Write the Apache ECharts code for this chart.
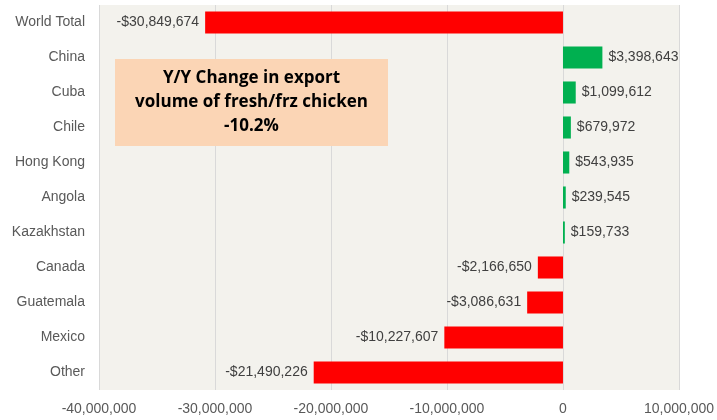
<!DOCTYPE html>
<html>
<head>
<meta charset="utf-8">
<script src="https://cdn.jsdelivr.net/npm/echarts@6/dist/echarts.min.js"></script>
<style>
  html, body { margin: 0; padding: 0; background: #fff; }
  #chartData { width: 717px; height: 420px; }
</style>
</head>
<body>
<div id="chartData"></div>
<script>
var categories = ['World Total', 'China', 'Cuba', 'Chile', 'Hong Kong', 'Angola',
                  'Kazakhstan', 'Canada', 'Guatemala', 'Mexico', 'Other'];
var changeValues = [-30849674, 3398643, 1099612, 679972, 543935, 239545,
                    159733, -2166650, -3086631, -10227607, -21490226];
var xTicks = { min: -40000000, max: 10000000, interval: 10000000 };
var boxText = 'Y/Y Change in export\nvolume of fresh/frz chicken\n-10.2%';

var font = '"Liberation Sans Narrow", "Liberation Sans", sans-serif';

function withCommas(n) {
    return String(Math.abs(Math.round(n))).replace(/\B(?=(\d{3})+(?!\d))/g, ',');
}
function money(n) {
    return (n < 0 ? '-$' : '$') + withCommas(n);
}

// 每根柱子按正负决定颜色和标签位置
var barData = changeValues.map(function (v) {
    return {
        value: v,
        itemStyle: { color: v < 0 ? '#ff0000' : '#00b050' },
        label: { position: v < 0 ? 'left' : 'right' }
    };
});

var myChart = echarts.init(document.getElementById('chartData'));

var option = {
    backgroundColor: '#ffffff',
    animation: false,
    grid: {
        left: 99, right: 38, top: 5, bottom: 30,
        show: true,
        backgroundColor: '#f3f2ed',
        borderWidth: 0
    },
    xAxis: {
        type: 'value',
        min: xTicks.min,
        max: xTicks.max,
        interval: xTicks.interval,
        axisLine: { show: false },
        axisTick: { show: false },
        splitLine: { lineStyle: { color: '#d9d9d9', width: 1 } },
        axisLabel: {
            color: '#595959',
            fontFamily: font,
            fontSize: 14,
            margin: 12,
            formatter: function (v) {
                return (v < 0 ? '-' : '') + withCommas(v);
            }
        }
    },
    yAxis: {
        type: 'category',
        inverse: true,
        data: categories,
        axisLine: { show: false },
        axisTick: { show: false },
        axisLabel: {
            color: '#595959',
            fontFamily: font,
            fontSize: 14,
            margin: 14
        }
    },
    series: [{
        type: 'bar',
        data: barData,
        barCategoryGap: '37%',
        label: {
            show: true,
            color: '#404040',
            fontFamily: font,
            fontSize: 14,
            distance: 6,
            formatter: function (p) { return money(p.value); }
        }
    }],
    graphic: [{
        type: 'group',
        left: 115,
        top: 59,
        z: 100,
        children: [{
            type: 'rect',
            z: 100,
            shape: { x: 0, y: 0, width: 273, height: 87 },
            style: { fill: '#fbd5b5' }
        }, {
            type: 'text',
            z: 101,
            x: 136.5,
            y: 43.5,
            style: {
                text: boxText,
                align: 'center',
                verticalAlign: 'middle',
                fontFamily: '"Open Sans", sans-serif',
                fontWeight: 'bold',
                fontSize: 17,
                lineHeight: 24,
                fill: '#000000'
            }
        }]
    }]
};

myChart.setOption(option);
</script>
</body>
</html>
